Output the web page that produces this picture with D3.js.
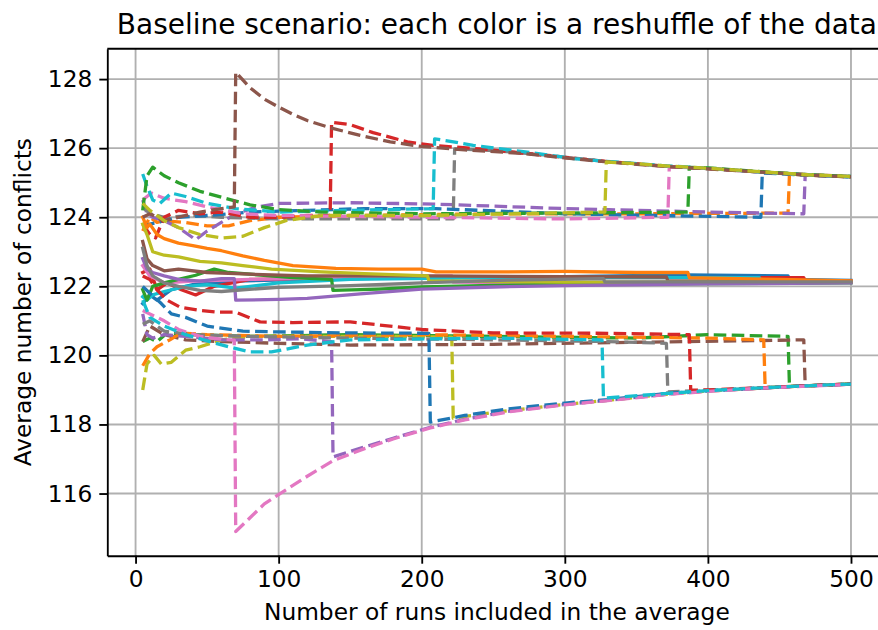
<!DOCTYPE html>
<html>
<head>
<meta charset="utf-8">
<script src="https://cdn.jsdelivr.net/npm/d3@7/dist/d3.min.js"></script>
<style>
  html, body { margin: 0; padding: 0; background: #ffffff; }
  svg { display: block; }
  text { font-family: "DejaVu Sans", "Liberation Sans", sans-serif; fill: #000; }
</style>
</head>
<body>
<svg id="chart" width="878" height="630"></svg>
<script>
// Category10 palette, cycled in plotting order
const palette = ["#1f77b4", "#ff7f0e", "#2ca02c", "#d62728", "#9467bd",
                 "#8c564b", "#e377c2", "#7f7f7f", "#bcbd22", "#17becf"];

const xTicks = [0, 100, 200, 300, 400, 500];
const yTicks = [116, 118, 120, 122, 124, 126, 128];

const titleText = "Baseline scenario: each color is a reshuffle of the data";
const xLabelText = "Number of runs included in the average";
const yLabelText = "Average number of conflicts";

// Running average of conflicts for each reshuffle: [runs, average]
const avg0 = [[5,121.5],[10,121.75],[15,121.6],[25,121.9],[40,122.05],[70,122.15],[120,122.2],[200,122.25],[300,122.28],[385,122.33],[456,122.3],[457,122.2],[500,122.17]];
const avg1 = [[5,122.4],[10,122.5],[15,121.9],[22,122.1],[32,121.9],[42,121.75],[55,122.0],[80,122.2],[150,122.25],[250,122.25],[350,122.25],[467,122.25],[468,122.16],[500,122.15]];
const avg2 = [[5,122.6],[10,122.3],[20,122.1],[40,122.15],[80,122.2],[150,122.25],[221,122.3],[222,122.12],[300,122.1],[400,122.12],[500,122.12]];
const avg3 = [[5,121.7],[8,121.6],[12,121.75],[20,121.85],[35,122.0],[50,122.05],[70,121.95],[100,122.1],[150,122.2],[250,122.25],[350,122.25],[436,122.25],[437,122.15],[500,122.13]];
const avg4 = [[5,121.9],[8,121.6],[12,122.0],[20,122.1],[30,122.2],[42,122.32],[55,122.5],[65,122.4],[80,122.35],[110,122.25],[137,122.2],[138,121.88],[170,121.92],[200,121.98],[250,122.03],[300,122.06],[400,122.08],[500,122.1]];
const avg5 = [[5,123.3],[8,122.8],[12,122.6],[20,122.45],[30,122.5],[50,122.4],[80,122.35],[120,122.3],[200,122.3],[300,122.28],[371,122.27],[372,122.16],[500,122.13]];
const avg6 = [[5,123.8],[8,123.5],[12,123.0],[20,122.9],[30,122.85],[45,122.72],[60,122.68],[75,122.6],[95,122.5],[130,122.42],[160,122.37],[204,122.3],[205,122.16],[300,122.12],[400,122.12],[500,122.12]];
const avg7 = [[5,124.0],[8,123.7],[10,123.8],[15,123.5],[20,123.38],[30,123.25],[40,123.18],[50,123.1],[60,123.03],[75,122.88],[90,122.75],[110,122.6],[140,122.52],[170,122.5],[200,122.5],[210,122.42],[260,122.42],[300,122.43],[350,122.4],[386,122.4],[387,122.25],[450,122.2],[500,122.16]];
const avg8 = [[5,122.8],[8,122.5],[12,122.4],[20,122.3],[30,122.2],[45,122.15],[60,122.22],[69,122.22],[70,121.6],[100,121.62],[120,121.65],[157,121.78],[200,121.92],[250,121.98],[300,122.02],[400,122.07],[500,122.1]];
const avg9 = [[5,123.1],[8,122.6],[12,122.3],[20,122.1],[30,122.0],[45,121.88],[60,121.85],[75,121.9],[100,121.97],[150,122.02],[200,122.1],[260,122.18],[327,122.22],[328,122.13],[400,122.13],[500,122.13]];

// Same reshuffles with the high replacement value
const high0 = [[5,123.6],[10,124.0],[15,123.85],[20,123.9],[35,123.85],[50,123.75],[65,123.75],[80,123.9],[100,124.0],[150,124.05],[250,124.1],[350,124.1],[456,124.12],[457,125.25],[480,125.2],[500,125.17]];
const high1 = [[5,124.5],[8,124.1],[12,124.0],[20,123.9],[30,123.7],[42,123.35],[50,123.6],[60,123.85],[70,124.1],[85,124.3],[100,124.4],[150,124.42],[210,124.38],[300,124.25],[400,124.15],[467,124.1],[468,125.23],[500,125.17]];
const high2 = [[5,124.3],[10,124.1],[20,124.0],[40,124.05],[60,124.0],[100,123.95],[150,123.95],[222,123.95],[223,125.98],[250,125.93],[280,125.83],[300,125.74],[330,125.61],[370,125.48],[400,125.41],[440,125.3],[470,125.22],[500,125.17]];
const high3 = [[5,123.7],[10,123.8],[20,123.9],[30,124.0],[50,124.05],[80,124.15],[120,124.2],[160,124.25],[210,124.25],[300,124.1],[437,124.0],[438,125.28],[470,125.22],[500,125.17]];
const high4 = [[5,123.8],[10,123.5],[14,123.4],[20,124.0],[30,124.2],[45,124.1],[60,124.15],[80,124.0],[100,124.0],[120,124.05],[136,124.05],[137,126.75],[150,126.68],[166,126.45],[190,126.18],[208,126.08],[240,125.98],[270,125.86],[300,125.73],[330,125.61],[370,125.48],[400,125.41],[440,125.3],[470,125.23],[500,125.18]];
const high5 = [[5,124.5],[11,124.7],[20,124.55],[35,124.45],[50,124.3],[75,124.1],[100,124.05],[200,124.0],[300,123.95],[372,124.0],[373,125.46],[400,125.42],[440,125.3],[470,125.23],[500,125.18]];
const high6 = [[5,125.25],[8,124.9],[12,124.5],[17,124.4],[25,124.7],[35,124.6],[50,124.4],[70,124.25],[100,124.15],[150,124.2],[208,124.25],[209,126.27],[220,126.2],[236,126.08],[271,125.9],[306,125.7],[329,125.62],[370,125.49],[400,125.42],[440,125.3],[470,125.23],[500,125.18]];
const high7 = [[5,124.2],[8,125.2],[12,125.45],[20,125.2],[30,125.0],[45,124.75],[60,124.58],[80,124.36],[100,124.22],[130,124.15],[200,124.1],[300,124.12],[386,124.15],[387,125.44],[400,125.43],[440,125.31],[470,125.23],[500,125.18]];
const high8 = [[5,124.0],[10,124.1],[20,123.9],[30,124.0],[45,124.15],[60,124.25],[69,124.3],[70,128.2],[80,127.75],[90,127.42],[100,127.19],[110,126.98],[120,126.8],[137,126.58],[157,126.37],[178,126.18],[200,126.05],[230,125.95],[270,125.85],[300,125.72],[330,125.6],[370,125.47],[400,125.4],[440,125.3],[470,125.22],[500,125.17]];
const high9 = [[5,124.4],[10,124.2],[20,123.9],[30,123.7],[45,123.5],[60,123.4],[75,123.45],[90,123.7],[105,123.9],[130,124.05],[200,124.05],[328,124.15],[329,125.6],[350,125.55],[370,125.49],[400,125.42],[440,125.31],[470,125.23],[500,125.18]];

// Same reshuffles with the low replacement value
const low0 = [[5,120.4],[10,120.5],[15,120.4],[22,120.65],[40,120.6],[80,120.55],[150,120.6],[250,120.55],[350,120.5],[400,120.6],[456,120.55],[457,119.1],[480,119.14],[500,119.17]];
const low1 = [[5,120.4],[10,120.85],[20,120.6],[35,120.45],[60,120.4],[100,120.35],[150,120.3],[250,120.32],[350,120.38],[420,120.42],[467,120.45],[468,119.12],[500,119.17]];
const low2 = [[5,119.0],[8,119.75],[13,120.0],[18,119.75],[25,119.8],[35,120.15],[45,120.25],[60,120.45],[80,120.55],[120,120.55],[180,120.55],[221,120.53],[222,118.18],[250,118.35],[300,118.58],[330,118.7],[372,118.88],[400,118.97],[437,119.05],[470,119.12],[500,119.17]];
const low3 = [[5,119.7],[10,120.05],[15,120.25],[24,120.45],[32,120.65],[50,120.6],[100,120.55],[200,120.6],[300,120.55],[400,120.5],[439,120.45],[440,119.07],[470,119.12],[500,119.17]];
const low4 = [[5,121.2],[8,120.6],[12,120.5],[20,120.6],[35,120.55],[60,120.45],[90,120.45],[115,120.48],[137,120.4],[138,117.06],[160,117.35],[180,117.6],[206,117.92],[230,118.15],[260,118.38],[300,118.58],[330,118.7],[372,118.88],[400,118.97],[437,119.05],[470,119.12],[500,119.17]];
const low5 = [[5,120.9],[10,121.0],[20,120.7],[40,120.6],[80,120.55],[150,120.5],[250,120.45],[330,120.4],[371,120.35],[372,118.94],[400,118.99],[437,119.06],[470,119.12],[500,119.17]];
const low6 = [[5,122.0],[10,121.8],[18,121.5],[25,121.2],[35,121.1],[50,120.85],[75,120.7],[100,120.68],[150,120.65],[205,120.64],[206,118.07],[230,118.26],[260,118.45],[300,118.62],[330,118.72],[372,118.9],[400,118.98],[437,119.06],[470,119.12],[500,119.17]];
const low7 = [[5,122.3],[10,122.2],[15,121.9],[22,121.6],[31,121.4],[45,121.3],[57,121.25],[70,121.25],[87,120.97],[110,120.95],[150,120.97],[200,120.75],[250,120.65],[330,120.64],[387,120.6],[388,118.99],[400,119.0],[437,119.06],[470,119.12],[500,119.17]];
const low8 = [[5,121.3],[10,121.2],[20,121.0],[30,120.75],[45,120.55],[60,120.47],[69,120.44],[70,114.9],[80,115.3],[90,115.7],[101,116.0],[120,116.5],[138,116.95],[160,117.3],[180,117.58],[206,117.9],[230,118.13],[260,118.36],[300,118.57],[330,118.69],[372,118.87],[400,118.96],[437,119.05],[470,119.11],[500,119.16]];
const low9 = [[5,121.6],[10,121.1],[20,120.85],[35,120.6],[50,120.42],[65,120.25],[80,120.1],[95,120.1],[120,120.3],[150,120.45],[250,120.5],[326,120.45],[327,118.76],[372,118.9],[400,118.98],[437,119.06],[470,119.12],[500,119.17]];

const averages = [avg0, avg1, avg2, avg3, avg4, avg5, avg6, avg7, avg8, avg9];
const highs = [high0, high1, high2, high3, high4, high5, high6, high7, high8, high9];
const lows = [low0, low1, low2, low3, low4, low5, low6, low7, low8, low9];

// ---- layout ----
const W = 878, H = 630;
const plot = { left: 107.3, right: 886.4, top: 48.7, bottom: 555.7 };
const fontSize = 23.3;
const lineWidth = 3.3;
const dash = "12.6,5.4";

const svg = d3.select("#chart");

const x = d3.scaleLinear().domain([-19.75, 524.75]).range([plot.left, plot.right]);
const y = d3.scaleLinear().domain([114.2, 128.88]).range([plot.bottom, plot.top]);

svg.append("defs").append("clipPath").attr("id", "plot-clip")
  .append("rect")
  .attr("x", plot.left).attr("y", plot.top)
  .attr("width", plot.right - plot.left).attr("height", plot.bottom - plot.top);

// grid
const grid = svg.append("g").attr("class", "grid")
  .attr("stroke", "#b0b0b0").attr("stroke-width", 1.85);
grid.selectAll("line.vx").data(xTicks).join("line").attr("class", "vx")
  .attr("x1", d => x(d)).attr("x2", d => x(d))
  .attr("y1", plot.top).attr("y2", plot.bottom);
grid.selectAll("line.hy").data(yTicks).join("line").attr("class", "hy")
  .attr("x1", plot.left).attr("x2", plot.right)
  .attr("y1", d => y(d)).attr("y2", d => y(d));

// series: for reshuffle k, average uses colour 3k, high 3k+1, low 3k+2
const line = d3.line().x(d => x(d[0])).y(d => y(d[1]));
const seriesG = svg.append("g").attr("clip-path", "url(#plot-clip)")
  .attr("fill", "none").attr("stroke-width", lineWidth)
  .attr("stroke-linejoin", "round");

const series = [];
for (let k = 0; k < 10; k++) {
  series.push({ data: averages[k], color: palette[(3 * k) % 10], dashed: false });
  series.push({ data: highs[k], color: palette[(3 * k + 1) % 10], dashed: true });
  series.push({ data: lows[k], color: palette[(3 * k + 2) % 10], dashed: true });
}
seriesG.selectAll("path").data(series).join("path")
  .attr("d", d => line(d.data))
  .attr("stroke", d => d.color)
  .attr("stroke-dasharray", d => d.dashed ? dash : null)
  .attr("stroke-linecap", d => d.dashed ? "butt" : "square");

// axes
const xAxis = d3.axisBottom(x).tickValues(xTicks).tickFormat(d3.format("d"))
  .tickSize(8).tickSizeOuter(0).tickPadding(7);
const yAxis = d3.axisLeft(y).tickValues(yTicks).tickFormat(d3.format("d"))
  .tickSize(8).tickSizeOuter(0).tickPadding(7);

const gx = svg.append("g").attr("transform", `translate(0,${plot.bottom})`).call(xAxis);
const gy = svg.append("g").attr("transform", `translate(${plot.left},0)`).call(yAxis);
[gx, gy].forEach(g => {
  g.select(".domain").attr("stroke", "#000").attr("stroke-width", 1.85);
  g.selectAll(".tick line").attr("stroke", "#000").attr("stroke-width", 1.85);
  g.selectAll(".tick text").attr("font-size", fontSize)
    .attr("font-family", "DejaVu Sans").attr("fill", "#000");
});
// top spine
svg.append("line")
  .attr("x1", plot.left).attr("x2", plot.right)
  .attr("y1", plot.top).attr("y2", plot.top)
  .attr("stroke", "#000").attr("stroke-width", 1.85);

const cx = (plot.left + plot.right) / 2;
const cy = (plot.top + plot.bottom) / 2;

svg.append("text")
  .attr("x", cx).attr("y", 34)
  .attr("text-anchor", "middle")
  .attr("font-size", fontSize * 1.2)
  .text(titleText);

svg.append("text")
  .attr("x", cx).attr("y", 620)
  .attr("text-anchor", "middle")
  .attr("font-size", fontSize)
  .text(xLabelText);

svg.append("text")
  .attr("transform", `translate(31,${cy}) rotate(-90)`)
  .attr("text-anchor", "middle")
  .attr("font-size", fontSize)
  .text(yLabelText);
</script>
</body>
</html>
